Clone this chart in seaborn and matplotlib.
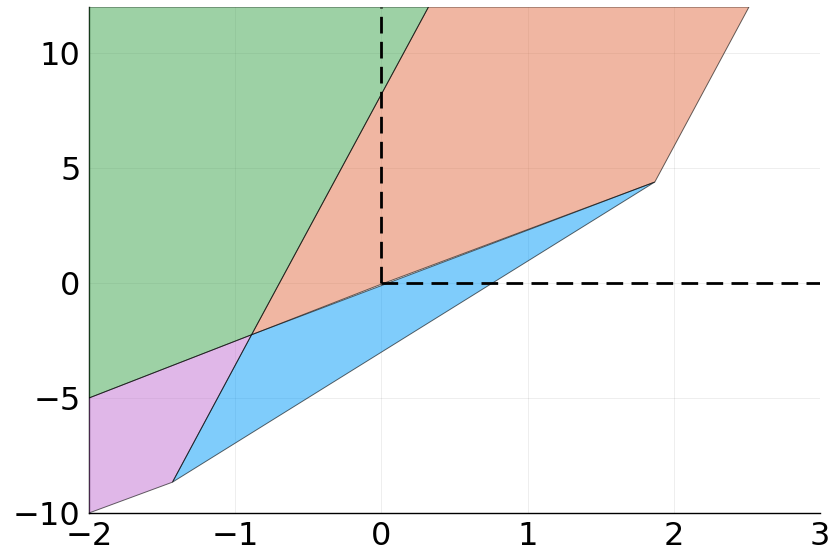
import matplotlib
matplotlib.use("Agg")
import matplotlib.pyplot as plt
import seaborn as sns

# polygon vertices (x, y)
green_x = [-2.0, -2.0, -0.888, 0.322]
green_y = [12.0, -5.0, -2.25, 12.0]
salmon_x = [-0.888, 0.0, 1.87, 2.514, 0.322]
salmon_y = [-2.25, -0.05, 4.39, 12.0, 12.0]
blue_x = [-0.888, 1.87, -1.429]
blue_y = [-2.25, 4.39, -8.66]
purple_x = [-2.0, -0.888, -1.429, -2.0]
purple_y = [-5.0, -2.25, -8.66, -10.0]

# dashed reference lines
vline_x = [0, 0]
vline_y = [0, 12]
hline_x = [0, 3]
hline_y = [0, 0]

sns.set_style("white")
plt.rcParams['font.family'] = ['DejaVu Sans']

fig = plt.figure(figsize=(8.3, 5.54), dpi=100)
ax = fig.add_axes([0.1072, 0.074, 0.8808, 0.9134])

polys = [
    (purple_x, purple_y, "#c271d2"),
    (blue_x, blue_y, "#009af9"),
    (salmon_x, salmon_y, "#e26f46"),
    (green_x, green_y, "#3da44d"),
]
for xs, ys, c in polys:
    ax.fill(xs, ys, facecolor=c, alpha=0.5, edgecolor="none", zorder=3)
    ax.fill(xs, ys, facecolor="none", edgecolor=(0, 0, 0, 0.6), linewidth=0.7, zorder=3.5)

sns.lineplot(x=vline_x, y=vline_y, ax=ax, color="black", linewidth=2,
             estimator=None, sort=False, zorder=4)
sns.lineplot(x=hline_x, y=hline_y, ax=ax, color="black", linewidth=2,
             estimator=None, sort=False, zorder=4)
for line in ax.lines:
    line.set_linestyle((0, (6, 3)))

ax.set_xlim(-2, 3)
ax.set_ylim(-10, 12)
ax.set_xticks([-2, -1, 0, 1, 2, 3])
ax.set_yticks([-10, -5, 0, 5, 10])
ax.set_xticklabels(["\u22122", "\u22121", "0", "1", "2", "3"])
ax.set_yticklabels(["\u221210", "\u22125", "0", "5", "10"])
ax.tick_params(direction="in", length=4, width=1, labelsize=23, pad=6,
               color="black", labelcolor="black")
ax.grid(True, color="black", alpha=0.08, linewidth=0.6, zorder=0)
ax.set_axisbelow(True)

for side in ["top", "right"]:
    ax.spines[side].set_visible(False)
for side in ["left", "bottom"]:
    ax.spines[side].set_color("black")
    ax.spines[side].set_linewidth(1)
    ax.spines[side].set_zorder(2.5)

fig.savefig("out.png", dpi=100)
